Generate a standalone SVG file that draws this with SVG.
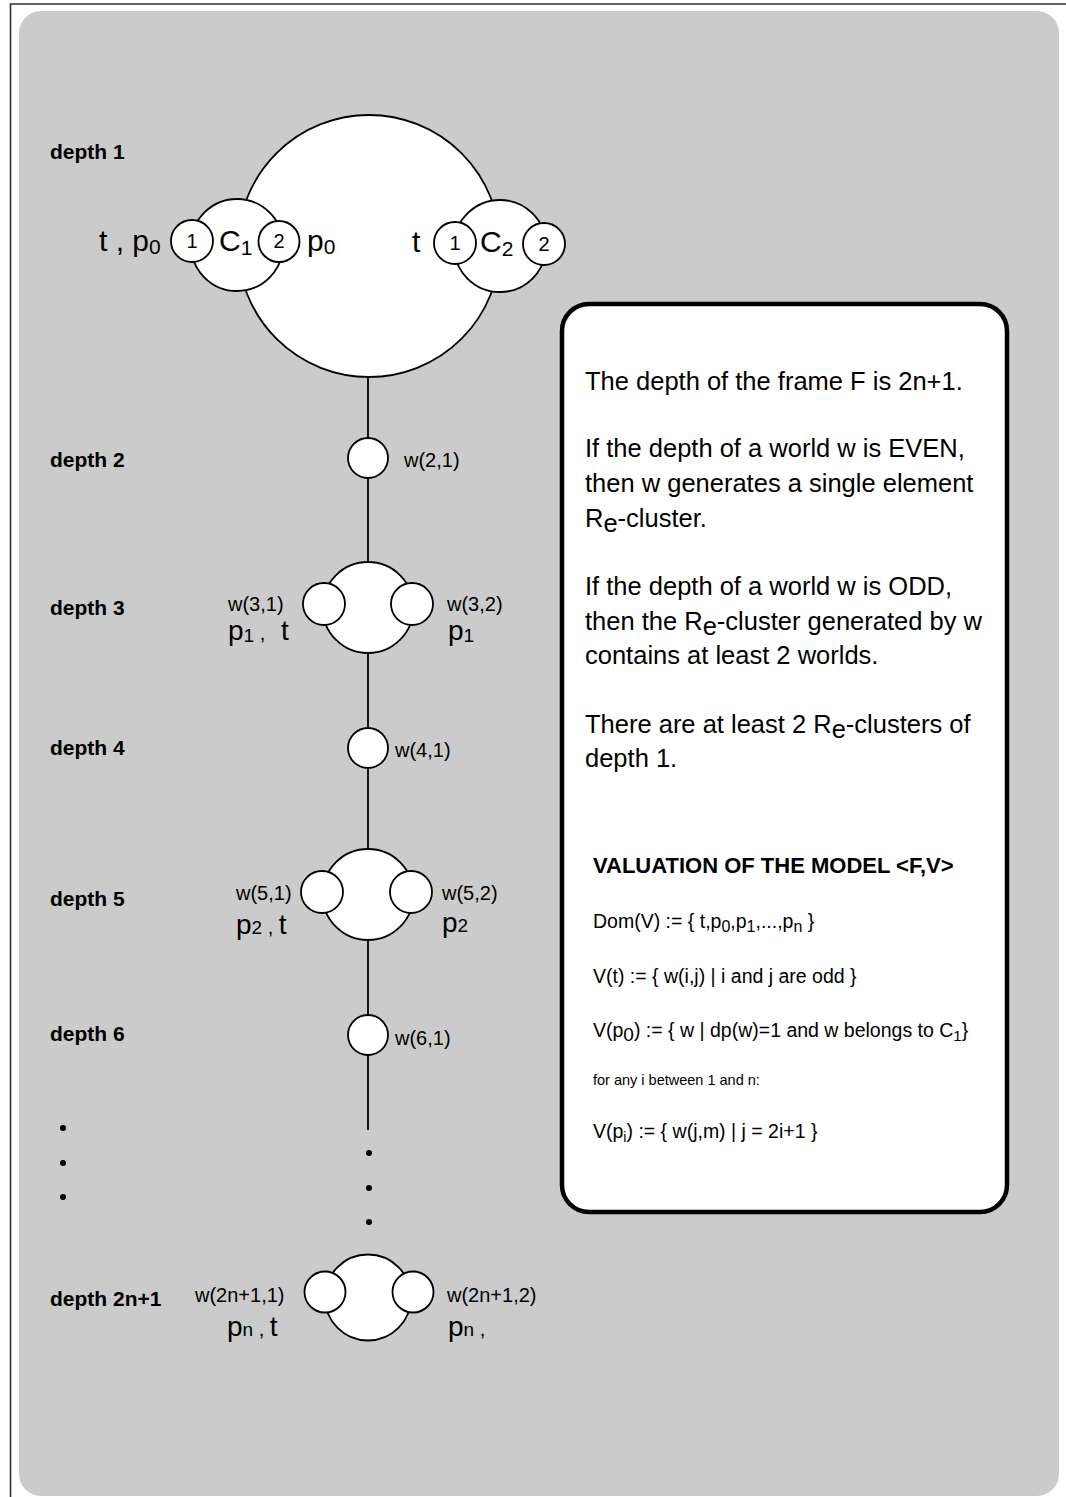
<svg xmlns="http://www.w3.org/2000/svg" width="1066" height="1497" viewBox="0 0 1066 1497">
  <style>
    text { font-family: "Liberation Sans", Arial, sans-serif; fill: #000; }
    .depth { font-size: 21px; font-weight: bold; }
    .big { font-size: 30px; }
    .num { font-size: 20px; text-anchor: middle; }
    .wl { font-size: 20px; }
    .pl { font-size: 28px; }
    .note { font-size: 25.5px; }
    .val { font-size: 19.5px; }
    .small { font-size: 14.5px; }
    .head { font-size: 22px; font-weight: bold; }
    .world { fill: #fff; stroke: #000; stroke-width: 1.8; }
    .link { stroke: #000; stroke-width: 1.8; fill: none; }
    .dot { fill: #000; }
  </style>

  <!-- page frame -->
  <rect x="0" y="0" width="1066" height="1497" fill="#fff"/>
  <path d="M10.5 1497 V4 H1066" fill="none" stroke="#333" stroke-width="1.6"/>
  <rect x="19" y="11" width="1040" height="1485" rx="22" ry="22" fill="#cbcbcb"/>

  <!-- depth labels -->
  <g id="depth-labels">
    <text class="depth" x="50" y="159">depth 1</text>
    <text class="depth" x="50" y="467">depth 2</text>
    <text class="depth" x="50" y="615">depth 3</text>
    <text class="depth" x="50" y="755">depth 4</text>
    <text class="depth" x="50" y="906">depth 5</text>
    <text class="depth" x="50" y="1041">depth 6</text>
    <text class="depth" x="50" y="1306">depth 2n+1</text>
  </g>

  <!-- connectors along the spine -->
  <g id="connectors">
    <line class="link" x1="368" y1="377" x2="368" y2="438"/>
    <line class="link" x1="368" y1="478" x2="368" y2="562"/>
    <line class="link" x1="368" y1="653" x2="368" y2="728"/>
    <line class="link" x1="368" y1="768" x2="368" y2="849"/>
    <line class="link" x1="368" y1="940" x2="368" y2="1015"/>
    <line class="link" x1="368" y1="1055" x2="368" y2="1130"/>
  </g>

  <!-- depth 1: root cluster with C1 and C2 -->
  <g id="root">
    <circle class="world" cx="369" cy="246" r="131"/>
  </g>
  <g id="cluster-c1">
    <circle class="world" cx="237" cy="245" r="46"/>
    <circle class="world" cx="192" cy="241" r="21"/>
    <circle class="world" cx="279" cy="241.5" r="20.5"/>
    <text class="num" x="192" y="248">1</text>
    <text class="num" x="279" y="248">2</text>
    <text class="big" x="219" y="251">C<tspan font-size="21" dy="4">1</tspan></text>
    <text class="big" x="99" y="251">t , p<tspan font-size="21" dy="3">0</tspan></text>
    <text class="big" x="307" y="251">p<tspan font-size="21" dy="3">0</tspan></text>
  </g>
  <g id="cluster-c2">
    <circle class="world" cx="500" cy="246" r="46"/>
    <circle class="world" cx="455" cy="243" r="21"/>
    <circle class="world" cx="544" cy="244" r="21"/>
    <text class="num" x="455" y="250">1</text>
    <text class="num" x="544" y="251">2</text>
    <text class="big" x="480" y="252">C<tspan font-size="21" dy="4">2</tspan></text>
    <text class="big" x="412" y="252">t</text>
  </g>

  <!-- depth 2 -->
  <g id="w21">
    <circle class="world" cx="368" cy="458" r="20"/>
    <text class="wl" x="404" y="467">w(2,1)</text>
  </g>

  <!-- depth 3 -->
  <g id="cluster-3">
    <circle class="world" cx="368" cy="607.5" r="45.5"/>
    <circle class="world" cx="324" cy="604" r="21"/>
    <circle class="world" cx="412" cy="604" r="21"/>
    <text class="wl" x="228" y="611">w(3,1)</text>
    <text class="pl" x="228" y="640">p<tspan font-size="19" dy="2">1</tspan><tspan dy="-2" font-size="20"> ,</tspan></text>
    <text class="pl" x="281" y="640">t</text>
    <text class="wl" x="447" y="611">w(3,2)</text>
    <text class="pl" x="448" y="640">p<tspan font-size="19" dy="2">1</tspan></text>
  </g>

  <!-- depth 4 -->
  <g id="w41">
    <circle class="world" cx="368" cy="748" r="20"/>
    <text class="wl" x="395" y="757">w(4,1)</text>
  </g>

  <!-- depth 5 -->
  <g id="cluster-5">
    <circle class="world" cx="368" cy="894.5" r="45.5"/>
    <circle class="world" cx="322" cy="892" r="21"/>
    <circle class="world" cx="411" cy="892" r="21"/>
    <text class="wl" x="236" y="900">w(5,1)</text>
    <text class="pl" x="236" y="934">p<tspan font-size="19">2</tspan><tspan font-size="20"> , </tspan>t</text>
    <text class="wl" x="442" y="900">w(5,2)</text>
    <text class="pl" x="442" y="932">p<tspan font-size="19">2</tspan></text>
  </g>

  <!-- depth 6 -->
  <g id="w61">
    <circle class="world" cx="368" cy="1035" r="20"/>
    <text class="wl" x="395" y="1045">w(6,1)</text>
  </g>

  <!-- ellipsis -->
  <g id="ellipsis">
    <circle class="dot" cx="63" cy="1128" r="3"/>
    <circle class="dot" cx="63" cy="1163" r="3"/>
    <circle class="dot" cx="63" cy="1197" r="3"/>
    <circle class="dot" cx="369" cy="1153" r="3"/>
    <circle class="dot" cx="369" cy="1188" r="3"/>
    <circle class="dot" cx="369" cy="1222" r="3"/>
  </g>

  <!-- depth 2n+1 -->
  <g id="cluster-last">
    <circle class="world" cx="368" cy="1297.5" r="43"/>
    <circle class="world" cx="325" cy="1292" r="20.5"/>
    <circle class="world" cx="413" cy="1292" r="20.5"/>
    <text class="wl" x="195" y="1302">w(2n+1,1)</text>
    <text class="pl" x="227" y="1336">p<tspan font-size="19">n</tspan><tspan font-size="20"> , </tspan>t</text>
    <text class="wl" x="447" y="1302">w(2n+1,2)</text>
    <text class="pl" x="448" y="1336">p<tspan font-size="19">n</tspan><tspan font-size="20"> ,</tspan></text>
  </g>

  <!-- explanation panel -->
  <g id="panel">
    <rect x="562" y="304" width="445" height="908" rx="27" ry="27" fill="#fff" stroke="#000" stroke-width="4.5"/>
    <text class="note" x="585" y="390">The depth of the frame F is 2n+1.</text>
    <text class="note" x="585" y="457">If the depth of a world w is EVEN,</text>
    <text class="note" x="585" y="492">then w generates a single element</text>
    <text class="note" x="585" y="527">R<tspan dy="5">e</tspan><tspan dy="-5">-cluster.</tspan></text>
    <text class="note" x="585" y="595">If the depth of a world w is ODD,</text>
    <text class="note" x="585" y="630">then the R<tspan dy="5">e</tspan><tspan dy="-5">-cluster generated by w</tspan></text>
    <text class="note" x="585" y="664">contains at least 2 worlds.</text>
    <text class="note" x="585" y="733">There are at least 2 R<tspan dy="5">e</tspan><tspan dy="-5">-clusters of</tspan></text>
    <text class="note" x="585" y="767">depth 1.</text>

    <text class="head" x="593" y="873">VALUATION OF THE MODEL &lt;F,V&gt;</text>
    <text class="val" x="593" y="928">Dom(V) := { t,p<tspan font-size="16" dy="4">0</tspan><tspan dy="-4">,p</tspan><tspan font-size="16" dy="4">1</tspan><tspan dy="-4">,...,p</tspan><tspan font-size="16" dy="4">n</tspan><tspan dy="-4"> }</tspan></text>
    <text class="val" x="593" y="983">V(t) := { w(i,j) | i and j are odd }</text>
    <text class="val" x="593" y="1037">V(p<tspan font-size="19" dy="4">0</tspan><tspan dy="-4">) := { w | dp(w)=1 and w belongs to C</tspan><tspan font-size="15" dy="4">1</tspan><tspan dy="-4">}</tspan></text>
    <text class="small" x="593" y="1085">for any i between 1 and n:</text>
    <text class="val" x="593" y="1138">V(p<tspan font-size="14" dy="4">i</tspan><tspan dy="-4">) := { w(j,m) | j = 2i+1 }</tspan></text>
  </g>
</svg>
